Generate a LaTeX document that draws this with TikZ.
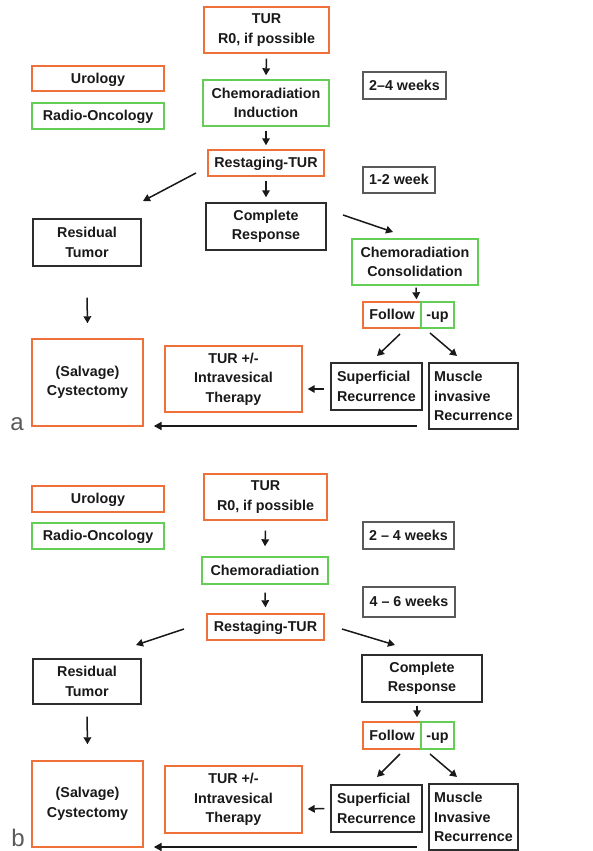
\documentclass[tikz,border=0pt]{standalone}
\usepackage{fontspec}
\setmainfont{Liberation Sans}
\usetikzlibrary{arrows.meta}

\definecolor{uro}{RGB}{240,112,58}
\definecolor{rad}{RGB}{100,205,85}
\definecolor{neut}{RGB}{45,45,45}
\definecolor{wk}{RGB}{90,90,90}
\definecolor{txt}{RGB}{25,25,25}

\tikzset{
  box/.style={draw, line width=1.4pt, inner sep=0pt, align=center, text=txt,
    font=\bfseries\fontsize{14.3}{19.5}\selectfont},
  wh/.style 2 args={minimum width=#1pt, minimum height=#2pt},
  oneline/.style={text height=10.2pt, text depth=1pt},
  urobox/.style={box, draw=uro},
  radbox/.style={box, draw=rad},
  plainbox/.style={box, draw=neut},
  weekbox/.style={box, draw=wk},
  arr/.style={line width=1.5pt, draw=txt, -{Triangle[length=7pt,width=7.5pt]}},
  longarr/.style={line width=2pt, draw=txt, -{Triangle[length=8pt,width=8pt]}},
  panel/.style={font=\fontsize{24}{24}\selectfont, text=wk, anchor=base, inner sep=0pt}
}

\begin{document}
\begin{tikzpicture}[x=1pt, y=-1pt]
  \fill[white] (0,0) rectangle (592,851);
  \useasboundingbox (0,0) rectangle (592,851);

  % ---------- panel a ----------
  \node[urobox, wh={125}{46}] (tura) at (266.5,30) {TUR\\R0, if possible};
  \node[urobox, wh={132}{25}, oneline] (urola) at (98,78.5) {Urology};
  \node[radbox, wh={132}{26}, oneline] (radioa) at (98,116) {Radio-Oncology};
  \node[radbox, wh={126}{46}] (chemia) at (266,103) {Chemoradiation\\Induction};
  \node[weekbox, wh={83}{27}, oneline] (wk1a) at (404.5,85.5) {2–4 weeks};
  \node[urobox, wh={116}{26}, oneline] (resta) at (266,163) {Restaging-TUR};
  \node[weekbox, wh={72}{26}, oneline] (wk2a) at (399,180) {1-2 week};
  \node[plainbox, wh={120}{47}] (cra) at (266,226.5) {Complete\\Response};
  \node[plainbox, wh={108}{47}] (resa) at (87,242.5) {Residual\\Tumor};
  \node[radbox, wh={126}{46}] (consa) at (415,262) {Chemoradiation\\Consolidation};
  \node[urobox, wh={58}{26}, oneline] (fola) at (392,315) {Follow};
  \node[radbox, wh={33}{26}, oneline] (upa) at (437.5,315) {-up};
  \node[urobox, wh={111}{87}] (salva) at (87.5,382.5) {(Salvage)\\Cystectomy};
  \node[urobox, wh={137}{66}] (intra) at (233.5,379) {TUR +/-\\Intravesical\\Therapy};
  \node[plainbox, wh={91}{47}, align=left] (supa) at (376.5,386.5) {Superficial\\Recurrence};
  \node[plainbox, wh={89}{66}, align=left] (musa) at (473.5,396) {Muscle\\invasive\\Recurrence};
  \node[panel] (laba) at (17,430) {a};

  \coordinate (dla1) at (196,173);
  \coordinate (dla2) at (143,201);
  \coordinate (dra1) at (343,215);
  \coordinate (dra2) at (393,232);
  \coordinate (fsa1) at (400,334);
  \coordinate (fsa2) at (377,356);
  \coordinate (fma1) at (430,333);
  \coordinate (fma2) at (457,356);

  \draw[arr] ([yshift=-5pt]tura.south) -- ([yshift=4pt]chemia.north);
  \draw[arr] ([yshift=-4pt]chemia.south) -- ([yshift=4pt]resta.north);
  \draw[arr] ([yshift=-4pt]resta.south) -- ([yshift=5pt]cra.north);
  \draw[arr] (dla1) -- (dla2);
  \draw[arr] (dra1) -- (dra2);
  \draw[arr] ([xshift=1pt,yshift=-2pt]consa.south) -- ([xshift=-21pt,yshift=2pt]upa.north);
  \draw[arr] ([yshift=-31pt]resa.south) -- ([yshift=15pt]salva.north);
  \draw[arr] (fsa1) -- (fsa2);
  \draw[arr] (fma1) -- (fma2);
  \draw[arr] ([xshift=-6pt,yshift=-2.5pt]supa.west) -- ([xshift=5pt,yshift=-10pt]intra.east);
  \draw[longarr] ([xshift=-11pt,yshift=-30pt]musa.west) -- ([xshift=10pt,yshift=-43.5pt]salva.east);

  % ---------- panel b ----------
  \node[urobox, wh={132}{26}, oneline] (urolb) at (98,499) {Urology};
  \node[radbox, wh={132}{26}, oneline] (radiob) at (98,536) {Radio-Oncology};
  \node[urobox, wh={123}{46}] (turb) at (265.5,497) {TUR\\R0, if possible};
  \node[weekbox, wh={91}{27}, oneline] (wk1b) at (408.5,535.5) {2 – 4 weeks};
  \node[radbox, wh={126}{27}, oneline] (chemb) at (265,570.5) {Chemoradiation};
  \node[weekbox, wh={92}{30}, oneline] (wk2b) at (409,602) {4 – 6 weeks};
  \node[urobox, wh={117}{26}, oneline] (restb) at (265.5,627) {Restaging-TUR};
  \node[plainbox, wh={108}{45}] (resb) at (87,681.5) {Residual\\Tumor};
  \node[plainbox, wh={120}{47}] (crb) at (422,678.5) {Complete\\Response};
  \node[urobox, wh={58}{27}, oneline] (folb) at (392,735.5) {Follow};
  \node[radbox, wh={33}{27}, oneline] (upb) at (437.5,735.5) {-up};
  \node[urobox, wh={111}{86}] (salvb) at (87.5,804) {(Salvage)\\Cystectomy};
  \node[urobox, wh={137}{67}] (intrb) at (233.5,799.5) {TUR +/-\\Intravesical\\Therapy};
  \node[plainbox, wh={91}{47}, align=left] (supb) at (376.5,808.5) {Superficial\\Recurrence};
  \node[plainbox, wh={89}{66}, align=left] (musb) at (473.5,817) {Muscle\\Invasive\\Recurrence};
  \node[panel] (labb) at (18,846) {b};

  \coordinate (dlb1) at (184,629);
  \coordinate (dlb2) at (136,645);
  \coordinate (drb1) at (342,629);
  \coordinate (drb2) at (395,645);
  \coordinate (fsb1) at (400,754);
  \coordinate (fsb2) at (377,777);
  \coordinate (fmb1) at (430,754);
  \coordinate (fmb2) at (457,777);

  \draw[arr] ([yshift=-10pt]turb.south) -- ([yshift=10pt]chemb.north);
  \draw[arr] ([yshift=-8pt]chemb.south) -- ([yshift=6pt]restb.north);
  \draw[arr] (dlb1) -- (dlb2);
  \draw[arr] (drb1) -- (drb2);
  \draw[arr] ([xshift=-5pt,yshift=-3pt]crb.south) -- ([xshift=-20.5pt,yshift=4pt]upb.north);
  \draw[arr] ([yshift=-12pt]resb.south) -- ([yshift=16pt]salvb.north);
  \draw[arr] (fsb1) -- (fsb2);
  \draw[arr] (fmb1) -- (fmb2);
  \draw[arr] ([xshift=-6pt]supb.west) -- ([xshift=5pt,yshift=-9.5pt]intrb.east);
  \draw[longarr] ([xshift=-11pt,yshift=-30pt]musb.west) -- ([xshift=10pt,yshift=-43pt]salvb.east);
\end{tikzpicture}
\end{document}
